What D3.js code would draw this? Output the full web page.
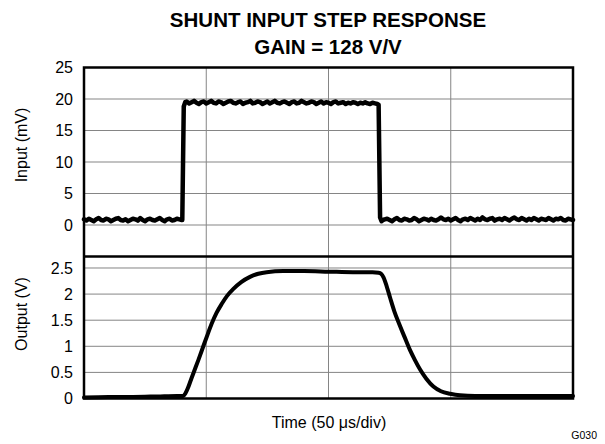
<!DOCTYPE html>
<html>
<head>
<meta charset="utf-8">
<script src="https://cdn.jsdelivr.net/npm/d3@7"></script>
<style>
  body { margin: 0; background: #fff; }
  svg { display: block; }
  text { font-family: "Liberation Sans", Arial, sans-serif; fill: #000; }
</style>
</head>
<body>
<svg id="chart" width="605" height="444"></svg>
<script>
// ---------------- data ----------------
const titleLines = ["SHUNT INPUT STEP RESPONSE", "GAIN = 128 V/V"];
const inputTicks = [0, 5, 10, 15, 20, 25];
const outputTicks = [0, 0.5, 1, 1.5, 2, 2.5];
const outputTickLabels = ["0", "0.5", "1", "1.5", "2", "2.5"];
const timeGrid = [50, 100, 150]; // µs, one per division

// Input trace (mV), sampled every 1 µs, plus the two edges
const inLowA = [0.9,0.7,1.0,0.8,0.6,0.9,1.1,0.8,0.7,1.0,0.9,0.6,0.8,1.0,1.1,0.8,0.7,0.9,0.6,0.8,
                1.0,0.9,0.7,1.1,0.8,0.6,0.9,1.0,0.8,0.7,0.9,1.1,0.8,0.6,0.9,1.0,0.7,0.8,1.0,0.9,0.8]; // t = 0..40
const inRiseT = [40.2, 40.8, 41.4];
const inRiseV = [0.8, 18.8, 19.5];
const inHigh = [19.6,19.3,19.5,19.7,19.4,19.2,19.5,19.6,19.3,19.5,
                19.7,19.4,19.3,19.6,19.5,19.2,19.4,19.6,19.7,19.4,
                19.3,19.5,19.6,19.2,19.4,19.5,19.7,19.3,19.4,19.6,
                19.5,19.2,19.4,19.6,19.3,19.5,19.7,19.4,19.3,19.5,
                19.6,19.4,19.2,19.5,19.6,19.3,19.4,19.7,19.5,19.3,
                19.4,19.6,19.5,19.2,19.4,19.6,19.3,19.5,19.4,19.2,
                19.5,19.6,19.3,19.4,19.5,19.2,19.4,19.3,19.5,19.4,
                19.2,19.4,19.3,19.5,19.3,19.2,19.4,19.3,19.2]; // t = 42..120
const inFallT = [120.5, 121.1, 121.7];
const inFallV = [19.1, 1.2, 0.6];
const inLowB = [0.7,0.9,1.0,0.8,0.6,0.9,1.1,0.8,0.7,1.0,
                0.9,0.7,0.8,1.1,0.9,0.6,0.8,1.0,0.9,0.7,
                1.0,0.8,0.7,0.9,1.2,0.9,0.8,1.0,0.7,0.9,
                1.1,0.8,0.6,0.9,1.0,0.8,1.1,0.9,0.7,1.0,
                0.8,1.2,0.9,0.8,1.0,1.1,0.7,0.9,1.0,0.8,
                1.1,0.9,0.7,1.0,1.2,0.9,0.8,1.1,0.9,0.7,
                1.0,0.8,1.1,0.9,0.7,1.0,0.9,0.8,1.1,0.9,
                0.7,1.0,0.9,1.1,0.8,0.7,1.0,0.9,0.8]; // t = 122..200

// Output trace (V)
const outT = [0, 10, 20, 30, 38, 40.6, 41.5, 42.5, 43.6, 44.7, 46.8, 48.8, 50.5, 52.2, 54.2, 56.3, 58.6, 61.1, 64.3, 67.9,
              71.3, 74.7, 81.5, 90, 100, 110, 118, 120.5, 121.5, 122.5, 123.8, 125.2, 127, 128.8, 131, 133.3, 135.3, 137.4,
              140, 142.9, 146, 149.7, 153.8, 160, 180, 200];
const outV = [0.02, 0.03, 0.03, 0.04, 0.05, 0.05, 0.1, 0.2, 0.34, 0.48, 0.74, 1.0, 1.22, 1.43, 1.64, 1.81, 1.97, 2.1, 2.23, 2.33,
              2.39, 2.42, 2.44, 2.44, 2.43, 2.42, 2.42, 2.41, 2.39, 2.32, 2.15, 1.93, 1.66, 1.44, 1.19, 0.93, 0.74, 0.56,
              0.38, 0.23, 0.14, 0.09, 0.06, 0.05, 0.05, 0.05];

// build input point list
const inputPts = [];
inLowA.forEach((v, i) => inputPts.push([i, v]));
inRiseT.forEach((t, i) => inputPts.push([t, inRiseV[i]]));
inHigh.forEach((v, i) => inputPts.push([42 + i, v]));
inFallT.forEach((t, i) => inputPts.push([t, inFallV[i]]));
inLowB.forEach((v, i) => inputPts.push([122 + i, v]));
const outputPts = outT.map((t, i) => [t, outV[i]]);

// ---------------- layout ----------------
const L = 84, R = 573, T = 67.5, M = 256.5, B = 398.5;
const svg = d3.select("#chart");

const x = d3.scaleLinear().domain([0, 200]).range([L, R]);
const yIn = d3.scaleLinear().domain([-5, 25]).range([M, T]);
const yOut = d3.scaleLinear().domain([0, 2.72]).range([B, M]);

// gridlines
const grid = svg.append("g").attr("stroke", "#858585").attr("stroke-width", 1);
timeGrid.forEach(t => {
  grid.append("line").attr("x1", x(t)).attr("x2", x(t)).attr("y1", T).attr("y2", B);
});
inputTicks.filter(v => v < 25).forEach(v => {
  grid.append("line").attr("x1", L).attr("x2", R).attr("y1", yIn(v)).attr("y2", yIn(v));
});
outputTicks.filter(v => v > 0).forEach(v => {
  grid.append("line").attr("x1", L).attr("x2", R).attr("y1", yOut(v)).attr("y2", yOut(v));
});

// traces
const lineIn = d3.line().x(d => x(d[0])).y(d => yIn(d[1]));
const lineOut = d3.line().x(d => x(d[0])).y(d => yOut(d[1])).curve(d3.curveMonotoneX);

svg.append("path").datum(inputPts).attr("d", lineIn)
  .attr("fill", "none").attr("stroke", "#000").attr("stroke-width", 4.5)
  .attr("stroke-linejoin", "round").attr("stroke-linecap", "round");

svg.append("path").datum(outputPts).attr("d", lineOut)
  .attr("fill", "none").attr("stroke", "#000").attr("stroke-width", 4)
  .attr("stroke-linejoin", "round").attr("stroke-linecap", "round");

// frame and separator
svg.append("rect").attr("x", L).attr("y", T).attr("width", R - L).attr("height", B - T)
  .attr("fill", "none").attr("stroke", "#000").attr("stroke-width", 2.5);
svg.append("line").attr("x1", L).attr("x2", R).attr("y1", M).attr("y2", M)
  .attr("stroke", "#000").attr("stroke-width", 2.5);

// axes (labels only)
const axIn = d3.axisLeft(yIn).tickValues(inputTicks).tickSize(0).tickPadding(11);
const gIn = svg.append("g").attr("transform", `translate(${L},0)`).call(axIn);
const axOut = d3.axisLeft(yOut).tickValues(outputTicks).tickSize(0).tickPadding(11)
  .tickFormat((d, i) => outputTickLabels[i]);
const gOut = svg.append("g").attr("transform", `translate(${L},0)`).call(axOut);
[gIn, gOut].forEach(g => {
  g.select(".domain").remove();
  g.selectAll("text").attr("font-size", 16).attr("font-family", "Liberation Sans, Arial, sans-serif").attr("fill", "#000");
});

// axis titles
svg.append("text").attr("transform", "translate(27,145) rotate(-90)")
  .attr("text-anchor", "middle").attr("font-size", 16).text("Input (mV)");
svg.append("text").attr("transform", "translate(27,314) rotate(-90)")
  .attr("text-anchor", "middle").attr("font-size", 16).text("Output (V)");
svg.append("text").attr("x", 329).attr("y", 428)
  .attr("text-anchor", "middle").attr("font-size", 16).text("Time (50 μs/div)");

// title
svg.append("text").attr("x", 328).attr("y", 26.5).attr("text-anchor", "middle")
  .attr("font-size", 20.5).attr("font-weight", "bold").text(titleLines[0]);
svg.append("text").attr("x", 328).attr("y", 53.5).attr("text-anchor", "middle")
  .attr("font-size", 20.5).attr("font-weight", "bold").text(titleLines[1]);

// figure id
svg.append("text").attr("x", 597).attr("y", 439).attr("text-anchor", "end")
  .attr("font-size", 10.5).text("G030");
</script>
</body>
</html>
